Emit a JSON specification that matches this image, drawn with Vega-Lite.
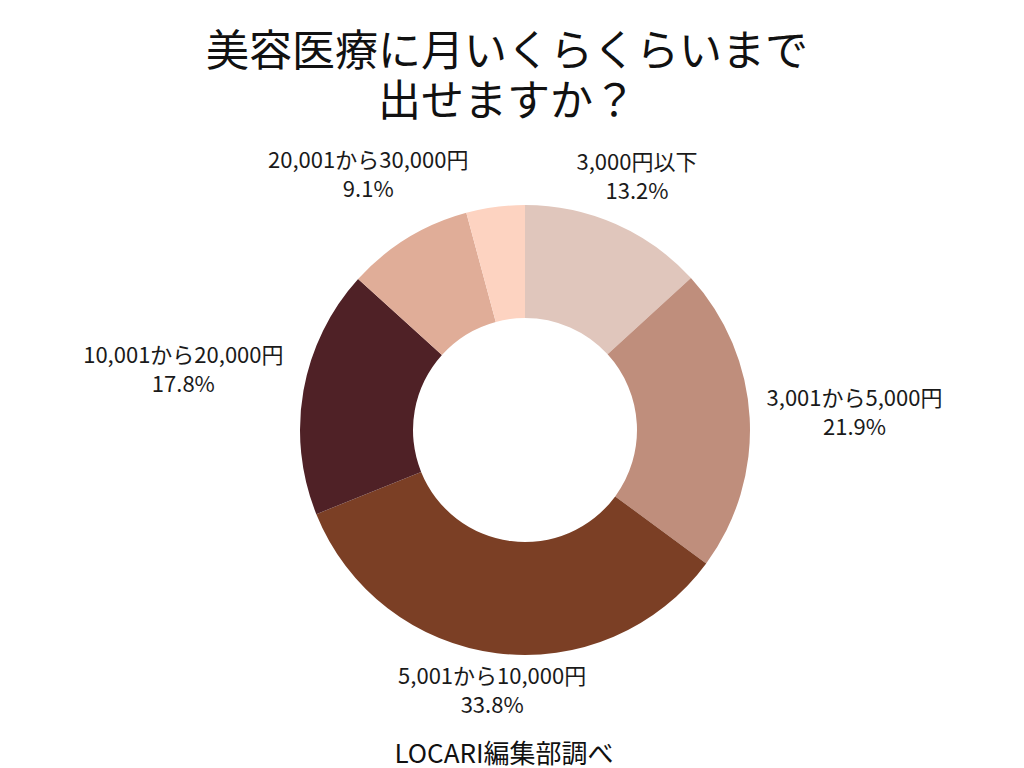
{
  "$schema": "https://vega.github.io/schema/vega-lite/v6.json",
  "background": "white",
  "padding": {"top": 32, "bottom": 0, "left": 0, "right": 0},
  "config": {"view": {"stroke": null}, "font": "Noto Sans CJK JP"},
  "title": {"text": ["美容医療に月いくらくらいまで", "出せますか？"], "fontSize": 43, "fontWeight": "normal", "lineHeight": 50, "anchor": "middle", "color": "#111111", "font": "Noto Sans CJK JP", "offset": -63, "dx": -18},
  "bounds": "flush",
  "spacing": 0,
  "vconcat": [
    {
      "width": 1050,
      "height": 560,
      "data": {"values": [
        {"cat": "3,000円以下", "value": 13.2, "label": "3,000円以下\n13.2%", "o": 1},
        {"cat": "3,001から5,000円", "value": 21.9, "label": "3,001から5,000円\n21.9%", "o": 2},
        {"cat": "5,001から10,000円", "value": 33.8, "label": "5,001から10,000円\n33.8%", "o": 3},
        {"cat": "10,001から20,000円", "value": 17.8, "label": "10,001から20,000円\n17.8%", "o": 4},
        {"cat": "20,001から30,000円", "value": 9.1, "label": "20,001から30,000円\n9.1%", "o": 5},
        {"cat": "30,001円以上", "value": 4.2, "label": "", "o": 6}
      ]},
      "encoding": {
        "theta": {"field": "value", "type": "quantitative", "stack": true},
        "order": {"field": "o", "type": "quantitative"},
        "detail": {"field": "cat", "type": "nominal"}
      },
      "layer": [
        {
          "mark": {"type": "arc", "innerRadius": 112, "outerRadius": 225},
          "encoding": {
            "color": {"field": "cat", "type": "nominal", "legend": null,
              "scale": {"domain": ["3,000円以下", "3,001から5,000円", "5,001から10,000円", "10,001から20,000円", "20,001から30,000円", "30,001円以上"],
                        "range": ["#E0C6BC", "#BF8E7C", "#7B3F25", "#4F2126", "#E0AD98", "#FDD3C1"]}}
          }
        },
        {
          "mark": {"type": "text", "radius": 278, "dy": -13, "fontSize": 22, "lineHeight": 29, "lineBreak": "\n", "align": "center", "baseline": "middle", "color": "#1a1a1a"},
          "encoding": {"text": {"condition": {"test": "datum.o === 1", "field": "label"}, "value": ""}}
        },
        {
          "mark": {"type": "text", "radius": 330, "dy": -13, "fontSize": 22, "lineHeight": 29, "lineBreak": "\n", "align": "center", "baseline": "middle", "color": "#1a1a1a"},
          "encoding": {"text": {"condition": {"test": "datum.o === 2", "field": "label"}, "value": ""}}
        },
        {
          "mark": {"type": "text", "radius": 262, "dy": -13, "fontSize": 22, "lineHeight": 29, "lineBreak": "\n", "align": "center", "baseline": "middle", "color": "#1a1a1a"},
          "encoding": {"text": {"condition": {"test": "datum.o === 3", "field": "label"}, "value": ""}}
        },
        {
          "mark": {"type": "text", "radius": 347, "dy": -13, "fontSize": 22, "lineHeight": 29, "lineBreak": "\n", "align": "center", "baseline": "middle", "color": "#1a1a1a"},
          "encoding": {"text": {"condition": {"test": "datum.o === 4", "field": "label"}, "value": ""}}
        },
        {
          "mark": {"type": "text", "radius": 300, "dy": -13, "fontSize": 22, "lineHeight": 29, "lineBreak": "\n", "align": "center", "baseline": "middle", "color": "#1a1a1a"},
          "encoding": {"text": {"condition": {"test": "datum.o === 5", "field": "label"}, "value": ""}}
        }
      ]
    },
    {
      "width": 1050,
      "height": 84,
      "data": {"values": [{"note": "LOCARI編集部調べ"}]},
      "mark": {"type": "text", "fontSize": 26, "align": "center", "baseline": "middle", "color": "#111111", "dx": -21, "dy": 3},
      "encoding": {"text": {"field": "note", "type": "nominal"}}
    }
  ]
}
